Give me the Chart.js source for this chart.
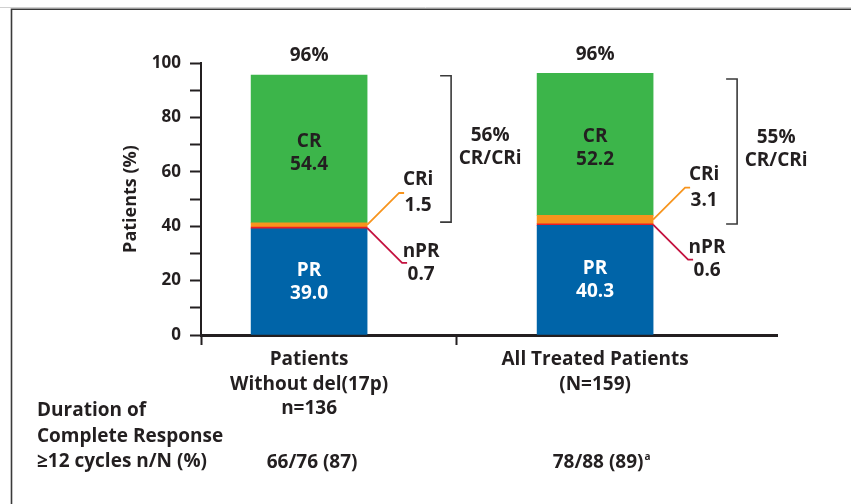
<!DOCTYPE html>
<html>
<head>
<meta charset="utf-8">
<script src="https://cdn.jsdelivr.net/npm/chart.js@4/dist/chart.umd.min.js"></script>
<style>
  html, body { margin: 0; padding: 0; background: #fff; }
  #wrap { width: 851px; height: 504px; position: relative; }
</style>
</head>
<body>
<div id="wrap"><canvas id="chart"></canvas></div>
<script>
// Response categories per patient group (percent of patients)
const groupLabels = [['Patients', 'Without del(17p)', 'n=136'], ['All Treated Patients', '(N=159)']];
const prValues  = [39.0, 40.3];
const nprValues = [0.7, 0.6];
const criValues = [1.5, 3.1];
const crValues  = [54.4, 52.2];
const overallLabels = ['96%', '96%'];
const crCriLabels   = ['56%', '55%'];
// extent of the CR/CRi bracket on the y scale: [top, bottom]
const crBracketSpan = [[95.3, 41.5], [94.1, 40.8]];
// duration of complete response row
const durationHeader = ['Duration of', 'Complete Response', '\u226512 cycles n/N (%)'];
const durationValues = ['66/76 (87)', '78/88 (89)'];
const durationNotes  = ['', 'a'];
const yTickStep = 10;

const INK = '#231f20';
const FONT = '"Open Sans", "DejaVu Sans", sans-serif';
const f = (size) => 'bold ' + size + 'px ' + FONT;

const toPoints = (arr) => arr.map((v, i) => ({ x: i, y: v }));

function label2(ctx, lines, x, yMid, gap, color) {
  ctx.fillStyle = color;
  ctx.fillText(lines[0], x, yMid - gap / 2);
  ctx.fillText(lines[1], x, yMid + gap / 2);
}

const annotations = {
  id: 'annotations',
  beforeDraw(chart) {
    const { ctx, width, height } = chart;
    ctx.save();
    ctx.strokeStyle = '#d0d0d0';
    ctx.lineWidth = 1;
    ctx.beginPath(); ctx.moveTo(0, 7.5); ctx.lineTo(width, 7.5); ctx.stroke();
    ctx.strokeStyle = '#3a3a3a';
    ctx.lineWidth = 1.6;
    ctx.beginPath();
    ctx.moveTo(11.5, height); ctx.lineTo(11.5, 9.3); ctx.lineTo(width, 9.3);
    ctx.stroke();
    ctx.restore();
  },
  afterDatasetsDraw(chart) {
    const { ctx, scales: { y } } = chart;
    const bars = chart.getDatasetMeta(0).data;
    ctx.save();
    ctx.textAlign = 'center';
    ctx.textBaseline = 'middle';
    ctx.font = f(19);
    bars.forEach((bar, i) => {
      const cx = bar.x;
      const right = bar.x + bar.width / 2;
      const pr = prValues[i], npr = nprValues[i], cri = criValues[i], cr = crValues[i];
      const total = pr + npr + cri + cr;

      // total above the bar
      ctx.fillStyle = INK;
      ctx.fillText(overallLabels[i], cx, y.getPixelForValue(total) - 19);

      // CR inside green segment
      const crMid = (y.getPixelForValue(pr + npr + cri) + y.getPixelForValue(total)) / 2 + 4;
      label2(ctx, ['CR', cr.toFixed(1)], cx, crMid, 23, INK);

      // PR inside blue segment
      const prMid = (y.getPixelForValue(0) + y.getPixelForValue(pr)) / 2;
      label2(ctx, ['PR', pr.toFixed(1)], cx, prMid, 23, '#ffffff');

      // CRi leader
      const criY = y.getPixelForValue(pr + npr + cri / 2);
      ctx.strokeStyle = '#f7941d';
      ctx.lineWidth = 1.8;
      ctx.beginPath();
      ctx.moveTo(right, criY);
      ctx.lineTo(right + 32, criY - 32);
      ctx.lineTo(right + 37, criY - 32);
      ctx.stroke();
      label2(ctx, ['CRi', cri.toFixed(1)], right + 51, criY - 32, 26, INK);

      // nPR leader
      const nprY = y.getPixelForValue(pr + npr / 2);
      ctx.strokeStyle = '#c4123f';
      ctx.beginPath();
      ctx.moveTo(right, nprY);
      ctx.lineTo(right + 35, nprY + 35);
      ctx.lineTo(right + 40, nprY + 35);
      ctx.stroke();
      label2(ctx, ['nPR', npr.toFixed(1)], right + 54, nprY + 35, 23, INK);

      // CR/CRi bracket
      const bx = right + 84;
      const bTop = y.getPixelForValue(crBracketSpan[i][0]);
      const bBot = y.getPixelForValue(crBracketSpan[i][1]);
      ctx.strokeStyle = '#3a3a3a';
      ctx.lineWidth = 1.6;
      ctx.beginPath();
      ctx.moveTo(bx - 11, bTop); ctx.lineTo(bx, bTop);
      ctx.lineTo(bx, bBot); ctx.lineTo(bx - 11, bBot);
      ctx.stroke();
      label2(ctx, [crCriLabels[i], 'CR/CRi'], bx + 39, (bTop + bBot) / 2 - 2, 23, INK);

      // duration of complete response value
      const dv = durationValues[i];
      const dx = cx + 3;
      ctx.fillStyle = INK;
      ctx.fillText(dv, dx, 463);
      if (durationNotes[i]) {
        const w = ctx.measureText(dv).width;
        ctx.font = f(10);
        ctx.textAlign = 'left';
        ctx.fillText(durationNotes[i], dx + w / 2 + 1, 457);
        ctx.font = f(19);
        ctx.textAlign = 'center';
      }
    });

    // row header
    ctx.textAlign = 'left';
    ctx.fillStyle = INK;
    ctx.font = f(19);
    durationHeader.forEach((t, k) => ctx.fillText(t, 37, 411 + k * 25.5));
    ctx.restore();
  }
};

const xMin = -0.378, xMax = 1.636, xMid = 0.517;

new Chart(document.getElementById('chart'), {
  type: 'bar',
  data: {
    datasets: [
      { label: 'PR',  data: toPoints(prValues),  backgroundColor: '#0064a8' },
      { label: 'nPR', data: toPoints(nprValues), backgroundColor: '#ed1c24' },
      { label: 'CRi', data: toPoints(criValues), backgroundColor: '#f7941d' },
      { label: 'CR',  data: toPoints(crValues),  backgroundColor: '#3cb54a' }
    ]
  },
  options: {
    responsive: true,
    maintainAspectRatio: false,
    animation: false,
    devicePixelRatio: 1,
    barThickness: 116,
    layout: { padding: { left: 120, top: 63, right: 74, bottom: 0 } },
    plugins: { legend: { display: false }, tooltip: { enabled: false } },
    scales: {
      x: {
        type: 'linear',
        stacked: true,
        offset: false,
        min: xMin,
        max: xMax,
        afterFit: (s) => { s.height = 169; },
        afterBuildTicks: (s) => {
          s.ticks = [{ value: xMin }, { value: 0 }, { value: xMid }, { value: 1 }];
        },
        border: { display: true, color: INK, width: 3 },
        grid: {
          display: true,
          offset: false,
          drawOnChartArea: false,
          drawTicks: true,
          tickLength: 10,
          tickWidth: 2,
          tickColor: (c) => (c.tick && (c.tick.value === 0 || c.tick.value === 1)) ? 'rgba(0,0,0,0)' : INK
        },
        ticks: {
          autoSkip: false,
          maxRotation: 0,
          minRotation: 0,
          padding: 3,
          color: INK,
          font: { family: FONT, size: 19, weight: 'bold', lineHeight: 1.27 },
          callback: (v) => (v === 0 || v === 1) ? groupLabels[v] : ''
        }
      },
      y: {
        stacked: true,
        min: 0,
        max: 100,
        afterFit: (s) => { s.width = 81; },
        border: { display: true, color: INK, width: 2 },
        grid: {
          display: true,
          drawOnChartArea: false,
          drawTicks: true,
          tickLength: 11,
          tickWidth: 2,
          tickColor: INK
        },
        ticks: {
          stepSize: yTickStep,
          padding: 9,
          color: INK,
          font: { family: FONT, size: 17, weight: 'bold' },
          callback: (v) => (v % 20 === 0 ? v : '')
        },
        title: {
          display: true,
          text: 'Patients (%)',
          color: INK,
          padding: { top: 0, bottom: 0 },
          font: { family: FONT, size: 18, weight: 'bold' }
        }
      }
    }
  },
  plugins: [annotations]
});
</script>
</body>
</html>
